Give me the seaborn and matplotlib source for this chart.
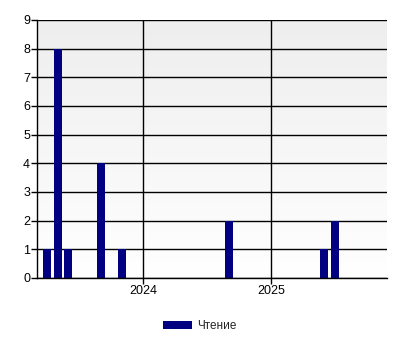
import matplotlib
matplotlib.use("Agg")
import matplotlib.pyplot as plt
import matplotlib.dates as mdates
from matplotlib.colors import LinearSegmentedColormap
import numpy as np
import pandas as pd
import seaborn as sns
from datetime import datetime

# Data
months = ["2023-04-01", "2023-05-01", "2023-06-01", "2023-09-01",
          "2023-11-01", "2024-09-01", "2025-06-01", "2025-07-01"]
values = [1, 8, 1, 4, 1, 2, 1, 2]
series_name = "Чтение"
year_ticks = ["2024-01-01", "2025-01-01"]
year_labels = ["2024", "2025"]

sns.set_theme(style="white")
plt.rcParams['font.family'] = ['Liberation Sans', 'DejaVu Sans']

xnum = mdates.date2num(pd.to_datetime(months))
df = pd.DataFrame({"date": xnum, "value": values})

fig = plt.figure(figsize=(4, 3.5), dpi=100)
ax = fig.add_axes([37/400, 1-278/350, 350/400, 258/350])

xmin = mdates.date2num(datetime(2024, 1, 1)) - 304
xmax = mdates.date2num(datetime(2024, 1, 1)) + 697

# gradient background (white at bottom, light grey at top)
grad = np.linspace(0, 1, 256).reshape(-1, 1)
cmap = LinearSegmentedColormap.from_list("g", ["#FFFFFF", "#EEEEEE"])
ax.imshow(grad, extent=[xmin, xmax, 0, 9], aspect="auto", cmap=cmap,
          zorder=0, origin="lower")

sns.barplot(data=df, x="date", y="value", native_scale=True, color="#000080",
            saturation=1, width=0.76, errorbar=None, linewidth=0, ax=ax,
            label=series_name, zorder=3)

ax.set_xlim(xmin, xmax)
ax.set_ylim(0, 9)
ax.set_yticks(range(0, 10))
ax.set_xticks(mdates.date2num(pd.to_datetime(year_ticks)))
ax.set_xticklabels(year_labels)
ax.set_xlabel("")
ax.set_ylabel("")

ax.grid(True, color="black", linewidth=1, zorder=1)
ax.set_axisbelow(False)
for gl in ax.get_xgridlines() + ax.get_ygridlines():
    gl.set_zorder(1)
for s in ["top", "right"]:
    ax.spines[s].set_visible(False)
for s in ["left", "bottom"]:
    ax.spines[s].set_color("black")
    ax.spines[s].set_linewidth(1)
    ax.spines[s].set_zorder(4)

ax.tick_params(axis="both", which="both", length=4, width=1, color="black",
               labelsize=9, labelcolor="black", pad=1, left=True, bottom=True)

handles, labels = ax.get_legend_handles_labels()
if ax.get_legend():
    ax.get_legend().remove()
fig.legend(handles, labels, loc="center", bbox_to_anchor=(0.5, 1-326/350),
           frameon=False, fontsize=8.5, handlelength=2.4, handleheight=0.7,
           handletextpad=0.5)

fig.savefig("out.png", dpi=100)
